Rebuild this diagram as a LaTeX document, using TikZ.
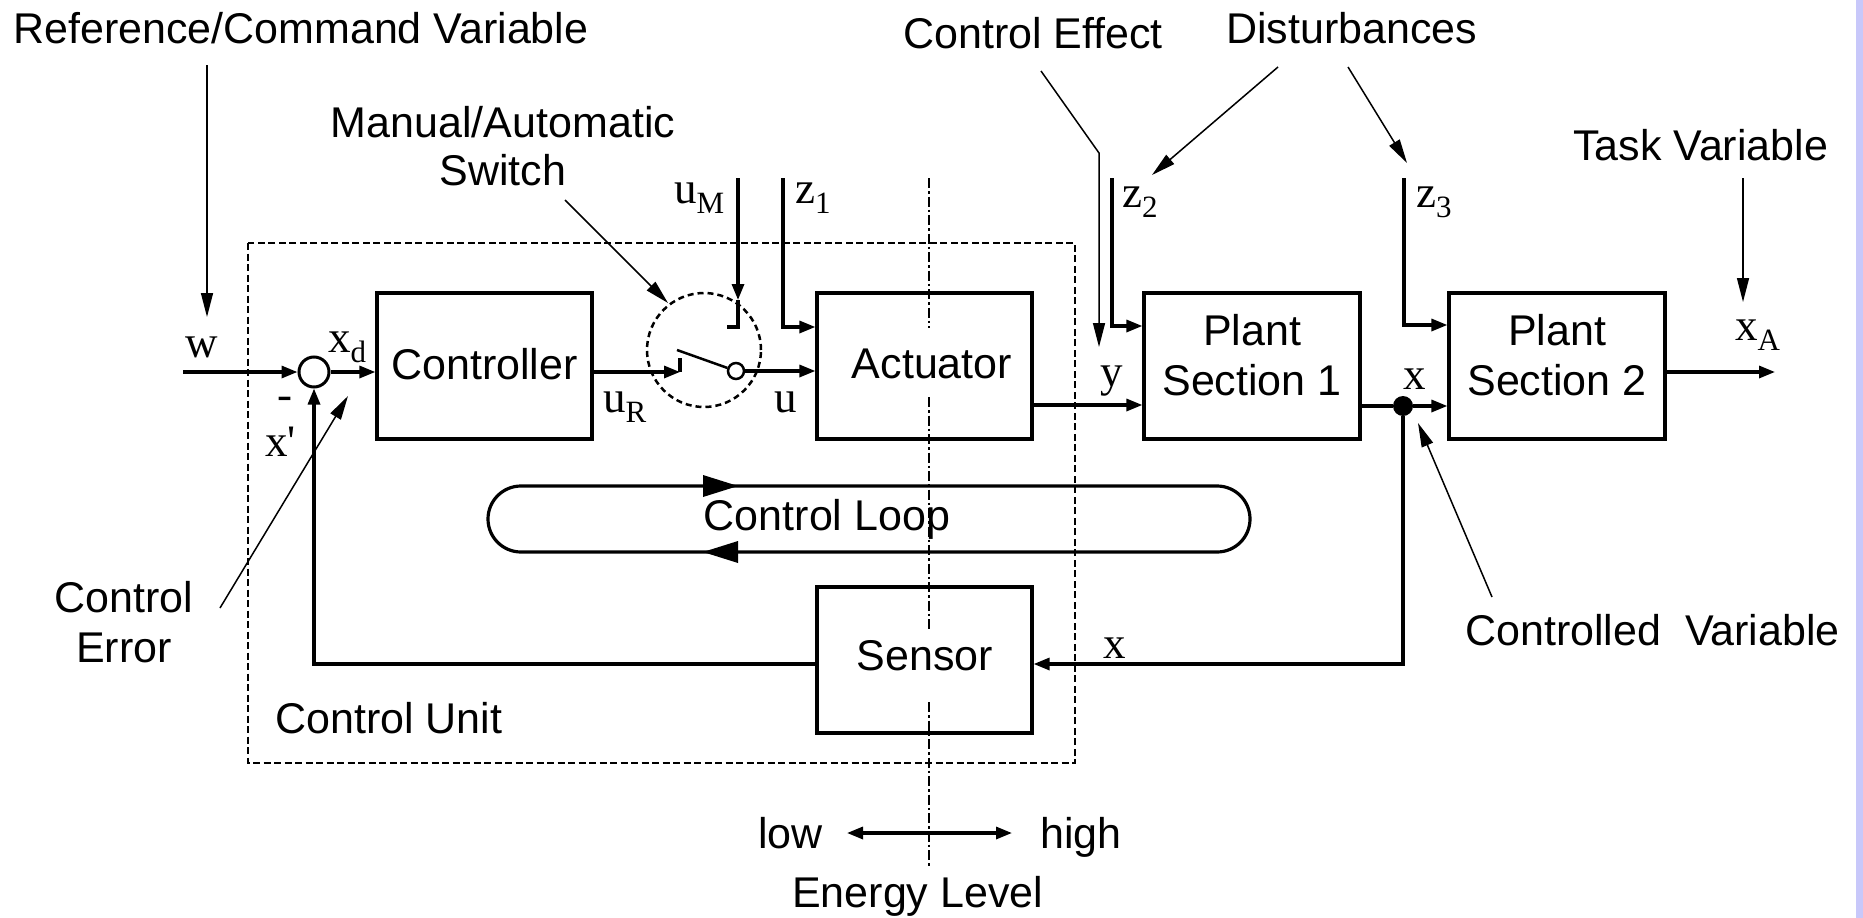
\documentclass[tikz,border=0pt]{standalone}
\usepackage{fontspec}
\setmainfont{Liberation Sans}
\newfontfamily\serifvar{Liberation Serif}
\usetikzlibrary{arrows.meta}
\definecolor{stripblue}{RGB}{200,200,250}
\newcommand\lbl[1]{{\serifvar\fontsize{45}{50}\selectfont #1}}
\newcommand\sublbl[2]{{\serifvar\fontsize{45}{50}\selectfont #1\raisebox{-10pt}{\fontsize{31}{34}\selectfont #2}}}
\begin{document}
\begin{tikzpicture}[x=1pt,y=-1pt,
  txt/.style={inner sep=0pt, anchor=base west, font=\fontsize{43}{50}\selectfont},
  txtc/.style={txt, anchor=base},
  box/.style={draw, line width=3.2pt, minimum width=215pt, minimum height=146pt, inner sep=0pt},
  sig/.style={line width=3.2pt, -{Triangle[length=16pt,width=12pt]}},
  wire/.style={line width=3.2pt},
  lead/.style={line width=1.5pt, -{Triangle[length=24pt,width=12pt]}},
  energy/.style={line width=1.8pt, dash pattern=on 10pt off 3pt on 2.5pt off 3pt}]
\useasboundingbox (0,0) rectangle (1863,918);
\fill[white] (0,0) rectangle (1863,918);
\fill[stripblue] (1856,0) rectangle (1863,918);

% control unit frame
\draw[line width=2.5pt, dash pattern=on 7pt off 3.5pt] (248,243) rectangle (1075,763);

% energy level line
\draw[energy] (929,178) -- (929,328);
\draw[energy] (929,397) -- (929,630);
\draw[energy] (929,702) -- (929,868);

% blocks
\node[box] (ctrl) at (484.5,366) {};
\node[box] (act) at (924.5,366) {};
\node[box] (sens) at (924.5,660) {};
\node[box, minimum width=216pt] (ps1) at (1252,366) {};
\node[box, minimum width=216pt] (ps2) at (1557,366) {};
\node[draw, circle, line width=3pt, minimum size=30pt, inner sep=0pt] (sum) at (314,372) {};
\node[draw, circle, line width=2.5pt, dash pattern=on 6pt off 4pt, minimum size=114pt, inner sep=0pt] (sw) at (704,350) {};
\node[draw, circle, line width=2.5pt, minimum size=16pt, inner sep=0pt] (piv) at (736,371) {};
\node[circle, fill, minimum size=20pt, inner sep=0pt] (dot) at (1403,406) {};

% block texts
\node[txtc] (tctrl) at (484.5,379) {Controller};
\node[txtc] (tact) at (932,378) {Actuator};
\node[txtc] (tsens) at (925,670) {Sensor};
\node[txtc] (tps1a) at (1252,345) {Plant};
\node[txtc] (tps1b) at (1252,395) {Section 1};
\node[txtc] (tps2a) at (1557,345) {Plant};
\node[txtc] (tps2b) at (1557,395) {Section 2};

% signal path
\coordinate (wstart) at (183,372);
\draw[sig] (wstart) -- (sum.west);
\draw[sig] (sum.east) -- (sum.east -| ctrl.west);
\coordinate (ca) at (680,372);
\coordinate (cb) at (680,358);
\draw[sig] (sum -| ctrl.east) -- (ca);
\draw[wire] (ca) -- (cb);
\coordinate (lv) at (677,350);
\draw[line width=2.5pt] (lv) -- (piv);
\draw[sig] (piv.east) -- (piv.east -| act.west);

% manual input
\coordinate (um0) at (738,178);
\coordinate (um1) at (738,300);
\coordinate (um2) at (738,327);
\coordinate (um3) at (727,327);
\draw[sig] (um0) -- (um1);
\draw[wire] (um1) -- (um2) -- (um3);

% z1
\coordinate (z1a) at (783,178);
\coordinate (z1b) at (783,327);
\draw[sig] (z1a) -- (z1b) -- (z1b -| act.west);

% actuator to plant
\coordinate (Y) at (0,405);
\draw[sig] (act.east |- Y) -- (ps1.west |- Y);

% z2, z3
\coordinate (z2a) at (1112,178);
\coordinate (z2b) at (1112,326);
\draw[sig] (z2a) -- (z2b) -- (z2b -| ps1.west);
\coordinate (z3a) at (1404,178);
\coordinate (z3b) at (1404,325);
\draw[sig] (z3a) -- (z3b) -- (z3b -| ps2.west);

% plant 1 to plant 2 and feedback
\draw[wire] (ps1.east |- dot) -- (dot);
\draw[sig] (dot) -- (ps2.west |- dot);
\coordinate (fb1) at (1403,664);
\draw[sig] (dot) -- (fb1) -- (fb1 -| sens.east);
\coordinate (fb2) at (314,664);
\draw[sig] (fb2 -| sens.west) -- (fb2) -- (sum.south);
\coordinate (xa) at (1775,372);
\draw[sig] (ps2.east |- xa) -- (xa);

% control loop
\draw[line width=3.2pt, rounded corners=33pt] (488,486) rectangle (1250,552);
\fill (703,475) -- (738,486) -- (703,497) -- cycle;
\fill (738,541) -- (703,552) -- (738,563) -- cycle;
\node[txtc] (tloop) at (827,530) {Control Loop};

% leaders
\coordinate (r0) at (207,65);   \coordinate (r1) at (207,317);
\draw[lead] (r0) -- (r1);
\coordinate (s0) at (565,200);  \coordinate (s1) at (668,303);
\draw[lead] (s0) -- (s1);
\coordinate (ce0) at (1041,71); \coordinate (ce1) at (1099,153); \coordinate (ce2) at (1099,347);
\draw[lead] (ce0) -- (ce1) -- (ce2);
\coordinate (d0) at (1278,67);  \coordinate (d1) at (1152,175);
\draw[lead] (d0) -- (d1);
\coordinate (d2) at (1348,67);  \coordinate (d3) at (1407,163);
\draw[lead] (d2) -- (d3);
\coordinate (tv0) at (1743,178); \coordinate (tv1) at (1743,302);
\draw[lead] (tv0) -- (tv1);
\coordinate (er0) at (220,608); \coordinate (er1) at (348,396);
\draw[lead] (er0) -- (er1);
\coordinate (cv0) at (1492,597); \coordinate (cv1) at (1418,423);
\draw[lead] (cv0) -- (cv1);

% energy arrow
\coordinate (lo) at (847,833); \coordinate (hi) at (1012,833);
\draw[line width=3.2pt, {Triangle[length=16pt,width=12pt]}-{Triangle[length=16pt,width=12pt]}] (lo) -- (hi);

% texts
\node[txt] (tref) at (13,43) {Reference/Command Variable};
\node[txtc] (tman) at (503,137) {Manual/Automatic};
\node[txtc] (tswi) at (503,185) {Switch};
\node[txt] (tce) at (903,48) {Control Effect};
\node[txt] (tdist) at (1226,43) {Disturbances};
\node[txt] (ttask) at (1573,160) {Task Variable};
\node[txt] (tcu) at (275,733) {Control Unit};
\node[txtc] (terr1) at (124,612) {Control};
\node[txtc] (terr2) at (124,662) {Error};
\node[txt] (tcv) at (1465,645) {Controlled~ Variable};
\node[txt] (tlow) at (758,848) {low};
\node[txt] (thigh) at (1040,848) {high};
\node[txt] (ten) at (792,907) {Energy Level};

% variable labels
\node[txt] (lw) at (185,357) {\lbl{w}};
\node[txt] (lxd) at (328,352) {\sublbl{x}{d}};
\node[txt] (lminus) at (277,409) {\lbl{-}};
\node[txt] (lxp) at (265,456) {\lbl{x\textquotesingle}};
\node[txt] (lur) at (603,412) {\sublbl{u}{R}};
\node[txt] (lu) at (774,412) {\lbl{u}};
\node[txt] (lum) at (674,203) {\sublbl{u}{M}};
\node[txt] (lz1) at (795,203) {\sublbl{z}{1}};
\node[txt] (lz2) at (1122,207) {\sublbl{z}{2}};
\node[txt] (lz3) at (1416,207) {\sublbl{z}{3}};
\node[txt] (ly) at (1100,386) {\lbl{y}};
\node[txt] (lx1) at (1403,389) {\lbl{x}};
\node[txt] (lx2) at (1103,658) {\lbl{x}};
\node[txt] (lxa) at (1735,340) {\sublbl{x}{A}};
\end{tikzpicture}
\end{document}
